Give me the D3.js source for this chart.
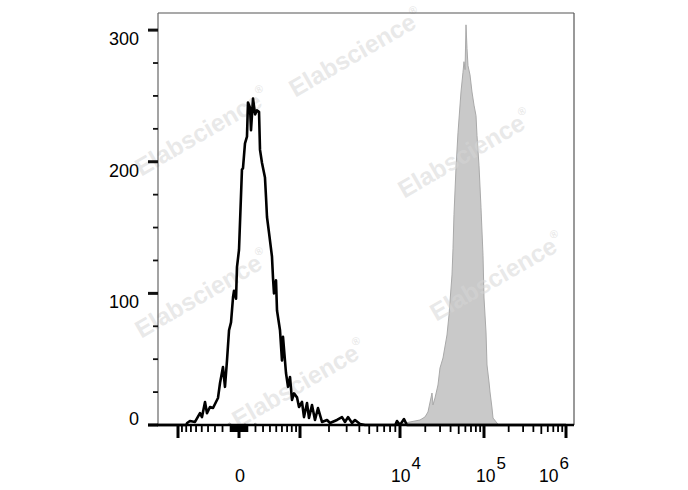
<!DOCTYPE html>
<html><head><meta charset="utf-8">
<script src="https://cdn.jsdelivr.net/npm/d3@7"></script>
<style>html,body{margin:0;padding:0;background:#fff}</style>
</head><body>
<svg id="c" width="688" height="490"></svg>
<script>
// ---- data ----
const yTickValues = [0, 100, 200, 300];
const yTickLabels = ["0", "100", "200", "300"];
const xMajorValues = [-1000, 0, 1000, 1e4, 1e5, 1e6];
const xLabelValues = [0, 1e4, 1e5, 1e6];
const xLabelBase = ["0", "10", "10", "10"];
const xLabelExp = ["", "4", "5", "6"];

// isotype / unstained control (black outline): [fluorescence, count]
const controlValues = [
  [-1700,0],[-800,0],[-780,1.5],[-720,3],[-620,2.3],[-530,9],[-496,6],[-447,17.5],[-416,9],
  [-371,13.7],[-327,12.9],[-286,17.5],[-259,20.5],[-232,32],[-194,44],[-169,29],[-144,49],
  [-119,72],[-95,78],[-71,97],[-59,102],[-35,96],[-24,120],[0,133],[35,194],[47,195],
  [71,214],[95,219],[107,245],[132,241],[144,224],[169,248],[195,236],[219,239],[246,238],
  [259,209],[286,199],[327,188],[342,173],[356,158],[386,146],[431,128],[447,112],[463,100],
  [496,110],[513,87],[565,72],[601,49],[620,67],[678,39.5],[719,29],[761,36.5],[805,19],
  [851,24],[923,21],[974,13.7],[1051,17.5],[1105,6],[1189,16.7],[1248,5.3],[1341,15.2],
  [1441,3.8],[1547,12.9],[1700,2.3],[1910,3.8],[2047,1.5],[2405,3.8],[2697,6],[2888,2.3],
  [3092,6],[3387,1.5],[3625,3.8],[4060,0.8],[4546,0],[9000,0],[9345,3],[10000,0],
  [11160,4.5],[12100,0],[1000000,0]
];

// stained sample (grey filled): [fluorescence, count]
const stainedValues = [
  [-1700,0],[-150,0],[-110,1.5],[-80,0],[50,0],[71,1.5],[90,0],[170,0],[194,1.5],[230,0],
  [8000,0],[10000,0.5],[13150,2.3],[17300,3.8],[19840,6.1],[21540,9.9],[24040,24.3],
  [24710,15.2],[26100,20.5],[28340,30.4],[29940,43.3],[32500,50.9],[36270,68.4],
  [38320,83.5],[41590,114],[42760,134],[43940,160],[46420,195],[49030,222],[53240,253],
  [56230,268],[57800,276],[59500,270],[61070,304],[62770,286],[64500,273],[68130,266],
  [71960,253],[76030,243],[80330,235],[82540,220],[87200,197],[92110,165],[97300,129],
  [100000,96.5],[105800,70.6],[108800,45.6],[115100,32.7],[118400,25.1],[125200,12.9],
  [128800,5.3],[144000,1.5],[150000,0],[1000000,0]
];

// ---- scales ----
const svg = d3.select("#c");
svg.append("rect").attr("width", 688).attr("height", 490).attr("fill", "#fff");

const L = 158, R = 574, T = 13, B = 425;
const g = v => Math.asinh(v / 500);
const xs = d3.scaleLinear().domain(xMajorValues.map(g)).range([178, 239, 300, 400, 484, 566]);
const x = v => xs(g(v));
const y = d3.scaleLinear().domain([0, 313]).range([B, T]);

// ---- marks ----
const area = d3.area().x(d => x(d[0])).y0(y(0)).y1(d => y(d[1]));
svg.append("path").datum(stainedValues).attr("d", area)
  .attr("fill", "#c9c9c9").attr("stroke", "#a9a9a9").attr("stroke-width", 1);

// watermarks
const wm = [[357, 55], [203, 134], [466, 156], [203, 296], [498, 279], [300, 386]];
wm.forEach(([cx, cy]) => {
  const t = svg.append("text")
    .attr("transform", `translate(${cx},${cy}) rotate(-30)`)
    .attr("text-anchor", "middle").attr("dominant-baseline", "middle")
    .attr("font-family", "Liberation Sans, Arial, sans-serif").attr("font-weight", "bold")
    .attr("font-size", 24.5).attr("fill", "#d6d6d6").attr("fill-opacity", 0.55);
  t.append("tspan").text("Elabscience");
  t.append("tspan").text("®").attr("font-size", 11).attr("dy", -10);
});

const line = d3.line().x(d => x(d[0])).y(d => y(d[1]));
svg.append("path").datum(controlValues).attr("d", line)
  .attr("fill", "none").attr("stroke", "#000").attr("stroke-width", 2.6).attr("stroke-linejoin", "round");

// ---- frame ----
svg.append("line").attr("x1", L).attr("x2", R).attr("y1", T).attr("y2", T).attr("stroke", "#555").attr("stroke-width", 1.2);
svg.append("line").attr("x1", R).attr("x2", R).attr("y1", T).attr("y2", B).attr("stroke", "#555").attr("stroke-width", 1.2);
svg.append("line").attr("x1", L).attr("x2", L).attr("y1", T).attr("y2", B).attr("stroke", "#666").attr("stroke-width", 1.2);

// y axis ticks
const yMinor = d3.range(25, 300, 25).filter(v => v % 100 !== 0);
svg.append("g").selectAll("line").data(yMinor).join("line")
  .attr("x1", L - 5).attr("x2", L).attr("y1", d => y(d)).attr("y2", d => y(d))
  .attr("stroke", "#111").attr("stroke-width", 1.8);
svg.append("g").selectAll("line").data(yTickValues).join("line")
  .attr("x1", L - 10).attr("x2", L).attr("y1", d => y(d)).attr("y2", d => y(d))
  .attr("stroke", "#111").attr("stroke-width", 3);
svg.append("g").selectAll("text").data(yTickValues).join("text")
  .attr("x", 139).attr("y", d => d === 0 ? y(d) : y(d) + 15)
  .attr("text-anchor", "end")
  .attr("font-family", "Liberation Sans, Arial, sans-serif").attr("font-size", 18)
  .text((d, i) => yTickLabels[i]);

// x axis
svg.append("line").attr("x1", 148).attr("x2", R).attr("y1", B).attr("y2", B)
  .attr("stroke", "#000").attr("stroke-width", 2.5);
const xMinor = [].concat(
  d3.range(-900, 0, 100), d3.range(-90, 0, 10), d3.range(10, 100, 10), d3.range(100, 1000, 100),
  d3.range(2000, 10000, 1000), d3.range(2e4, 1e5, 1e4), d3.range(2e5, 1e6, 1e5)
);
const isMid = v => { const a = Math.abs(v); const p = Math.pow(10, Math.floor(Math.log10(a))); return Math.round(a / p) === 5 && a >= 1000; };
svg.append("g").selectAll("line").data(xMinor).join("line")
  .attr("x1", d => x(d)).attr("x2", d => x(d)).attr("y1", B).attr("y2", d => isMid(d) ? B + 9 : B + 7)
  .attr("stroke", "#000").attr("stroke-width", 1.8);
svg.append("g").selectAll("line").data(xMajorValues).join("line")
  .attr("x1", d => x(d)).attr("x2", d => x(d)).attr("y1", B).attr("y2", B + 13)
  .attr("stroke", "#000").attr("stroke-width", 3);

const labelShift = [-5, -9, -8, -27];
xLabelValues.forEach((v, i) => {
  const t = svg.append("text")
    .attr("font-family", "Liberation Sans, Arial, sans-serif");
  if (xLabelExp[i] === "") {
    t.attr("x", x(v) + 1).attr("y", 482).attr("text-anchor", "middle").attr("font-size", 18).text(xLabelBase[i]);
  } else {
    t.attr("x", x(v) + labelShift[i]).attr("y", 482).attr("font-size", 17.5);
    t.append("tspan").text(xLabelBase[i]);
    t.append("tspan").text(xLabelExp[i]).attr("font-size", 17).attr("dx", 1).attr("dy", -13);
  }
});
</script>
</body></html>
